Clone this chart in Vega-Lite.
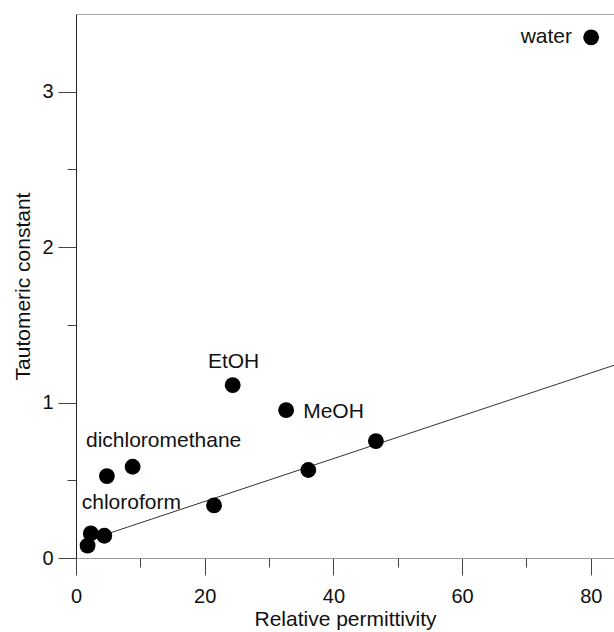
{
  "$schema": "https://vega.github.io/schema/vega-lite/v6.json",
  "width": 538,
  "height": 544,
  "autosize": {"type": "none"},
  "padding": {"left": 76, "top": 14, "right": 0, "bottom": 74},
  "background": "white",
  "config": {"view": {"stroke": null}, "font": "Liberation Sans"},
  "datasets": {
    "points": [
      {"eps": 1.8, "k": 0.08},
      {"eps": 2.3, "k": 0.158},
      {"eps": 4.4, "k": 0.143},
      {"eps": 4.8, "k": 0.527},
      {"eps": 8.8, "k": 0.587},
      {"eps": 21.45, "k": 0.339},
      {"eps": 24.35, "k": 1.112},
      {"eps": 32.65, "k": 0.951},
      {"eps": 36.1, "k": 0.566},
      {"eps": 46.6, "k": 0.752},
      {"eps": 80.05, "k": 3.35}
    ],
    "fit": [
      {"eps": 4.4, "k": 0.149},
      {"eps": 83.6, "k": 1.24}
    ],
    "labels": [
      {"eps": 69.1, "k": 3.316, "label": "water"},
      {"eps": 20.5, "k": 1.221, "label": "EtOH"},
      {"eps": 35.3, "k": 0.9, "label": "MeOH"},
      {"eps": 1.55, "k": 0.713, "label": "dichloromethane"},
      {"eps": 0.89, "k": 0.315, "label": "chloroform"}
    ]
  },
  "resolve": {"axis": {"x": "independent", "y": "independent"}},
  "layer": [
    {
      "data": {"name": "fit"},
      "mark": {"type": "line", "color": "#333333", "strokeWidth": 1, "clip": true},
      "encoding": {
        "x": {
          "field": "eps", "type": "quantitative",
          "scale": {"domain": [0, 83.6], "nice": false, "zero": false},
          "axis": {
            "orient": "bottom", "values": [0, 20, 40, 60, 80], "grid": false,
            "tickSize": 17, "tickColor": "#444444", "tickWidth": 1,
            "domainColor": "#999999", "domainWidth": 1,
            "labelFontSize": 20, "labelColor": "#111111", "labelPadding": 11,
            "labelFont": "Liberation Sans", "labelFlush": false,
            "title": "Relative permittivity", "titleFontSize": 21, "titleFontWeight": "normal",
            "titleColor": "#111111", "titleFont": "Liberation Sans", "titlePadding": 2
          }
        },
        "y": {
          "field": "k", "type": "quantitative",
          "scale": {"domain": [0, 3.5], "nice": false, "zero": false},
          "axis": {
            "orient": "left", "values": [0, 1, 2, 3], "grid": false,
            "tickSize": 18, "tickColor": "#444444", "tickWidth": 1,
            "domainColor": "#222222", "domainWidth": 1,
            "labelFontSize": 20, "labelColor": "#111111", "labelPadding": 5,
            "labelFont": "Liberation Sans", "labelFlush": false,
            "title": "Tautomeric constant", "titleFontSize": 21, "titleFontWeight": "normal",
            "titleColor": "#111111", "titleFont": "Liberation Sans", "titlePadding": 8
          }
        }
      }
    },
    {
      "data": {"name": "points"},
      "mark": {"type": "circle", "size": 250, "color": "#000000", "opacity": 1},
      "encoding": {
        "x": {
          "field": "eps", "type": "quantitative",
          "axis": {
            "orient": "bottom", "values": [10, 30, 50, 70], "grid": false,
            "tickSize": 9, "tickColor": "#444444", "labels": false, "domain": false, "title": null
          }
        },
        "y": {
          "field": "k", "type": "quantitative",
          "axis": {
            "orient": "left", "values": [0.5, 1.5, 2.5], "grid": false,
            "tickSize": 9, "tickColor": "#444444", "labels": false, "domain": false, "title": null
          }
        }
      }
    },
    {
      "data": {"name": "labels"},
      "mark": {"type": "text", "align": "left", "baseline": "alphabetic", "fontSize": 21, "font": "Liberation Sans", "color": "#111111"},
      "encoding": {
        "x": {
          "field": "eps", "type": "quantitative",
          "axis": {
            "orient": "top", "grid": false, "ticks": false, "labels": false,
            "domainColor": "#aaaaaa", "domainWidth": 1, "title": null
          }
        },
        "y": {"field": "k", "type": "quantitative", "axis": null},
        "text": {"field": "label"}
      }
    }
  ]
}
